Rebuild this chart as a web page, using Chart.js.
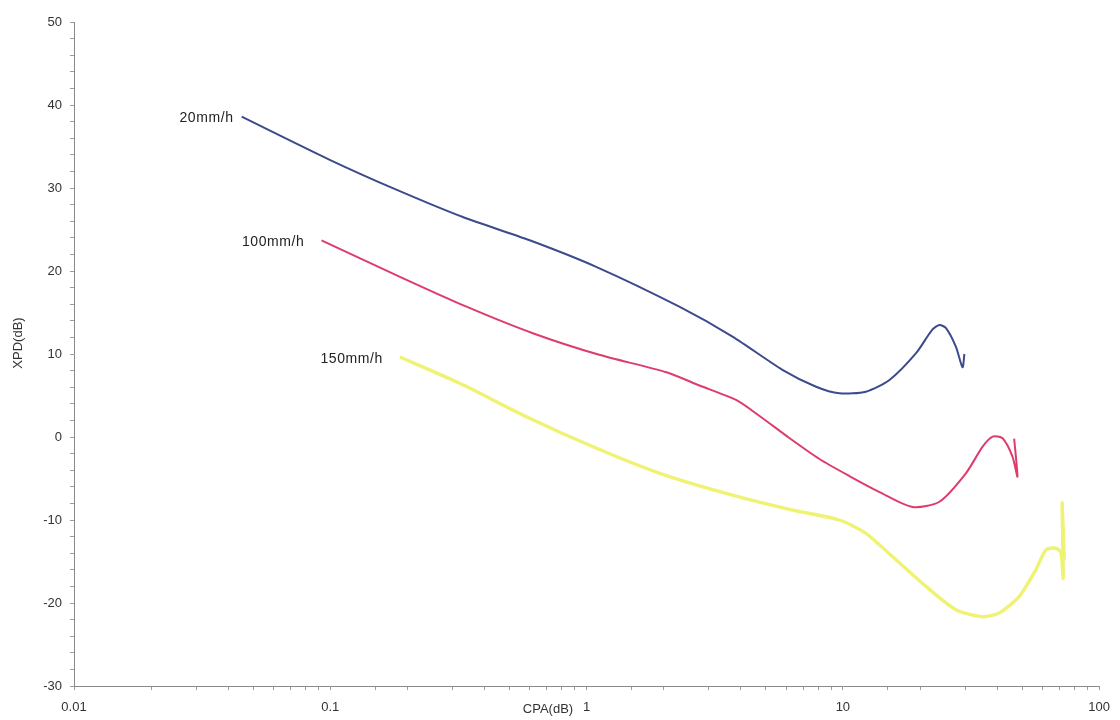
<!DOCTYPE html>
<html>
<head>
<meta charset="utf-8">
<title>XPD vs CPA</title>
<script src="https://cdn.jsdelivr.net/npm/chart.js@4/dist/chart.umd.min.js"></script>
<style>
  html, body { margin: 0; padding: 0; background: #ffffff; }
  #wrap { width: 1120px; height: 720px; }
</style>
</head>
<body>
<div id="wrap"><canvas id="c" width="1120" height="720"></canvas></div>
<script>
// Rain-rate curves: CPA (dB) on a log axis against XPD (dB)
const seriesNames = ['20mm/h', '100mm/h', '150mm/h'];

const cpa20 = [0.0451, 0.0995, 0.181, 0.329, 0.60, 1.09, 2.30, 3.71, 5.81, 7.86, 9.69, 12.3, 15.2, 19.3, 22.3, 23.8, 25.3, 27.6, 29.3, 29.8];
const xpd20 = [38.6, 33.4, 29.8, 26.5, 23.7, 20.5, 15.7, 12.1, 8.1, 6.06, 5.27, 5.46, 6.87, 10.1, 12.9, 13.5, 13.1, 10.9, 8.4, 10.0];

const cpa100 = [0.0924, 0.187, 0.34, 0.617, 1.12, 2.05, 2.76, 3.83, 4.73, 6.18, 8.10, 10.6, 13.9, 18.7, 23.8, 30.2, 35.1, 38.4, 42.0, 45.9, 48.0, 46.6];
const xpd100 = [23.7, 19.3, 15.7, 12.5, 9.9, 7.8, 6.2, 4.46, 2.53, -0.12, -2.65, -4.70, -6.63, -8.43, -7.8, -4.37, -1.17, 0.04, -0.16, -2.37, -4.78, -0.2];

const cpa150 = [0.187, 0.32, 0.582, 1.06, 1.93, 3.5, 6.37, 9.69, 12.3, 15.6, 21.1, 27.6, 35.1, 40.7, 48.8, 56.6, 62.0, 67.8, 70.9, 72.4, 71.7, 73.1];
const xpd150 = [9.64, 6.47, 2.45, -1.17, -4.37, -6.78, -8.8, -10.0, -11.6, -14.4, -18.0, -20.8, -21.65, -21.2, -19.2, -16.0, -13.6, -13.4, -13.9, -17.0, -7.95, -14.8];

const xTickLabels = ['0.01', '0.1', '1', '10', '100'];
const yTickLabels = ['-30', '-20', '-10', '0', '10', '20', '30', '40', '50'];
const xTitle = 'CPA(dB)';
const yTitle = 'XPD(dB)';

const toPoints = (xs, ys) => xs.map((x, i) => ({ x: x, y: ys[i] }));

const lineColors = ['#3d4a8c', '#de3d6c', '#eff272'];
const lineWidths = [2, 2, 3.4];
const labelGaps = [8, 17, 17];
const allX = [cpa20, cpa100, cpa150];
const allY = [xpd20, xpd100, xpd150];

const datasets = seriesNames.map((name, i) => ({
  label: name,
  data: toPoints(allX[i], allY[i]),
  showLine: true,
  borderColor: lineColors[i],
  backgroundColor: lineColors[i],
  borderWidth: lineWidths[i],
  pointRadius: 0,
  tension: 0.25,
  fill: false
}));

const FONT = '"Liberation Sans", Arial, sans-serif';

// Curve names beside the start of each line, plus the axis titles
const annotate = {
  id: 'annotate',
  afterDatasetsDraw(chart) {
    const ctx = chart.ctx;
    const xs = chart.scales.x, ys = chart.scales.y;
    ctx.save();
    ctx.fillStyle = '#222';
    ctx.font = '14px ' + FONT;
    ctx.letterSpacing = '0.6px';
    ctx.textAlign = 'right';
    ctx.textBaseline = 'middle';
    chart.data.datasets.forEach((ds, i) => {
      const p = ds.data[0];
      ctx.fillText(ds.label, xs.getPixelForValue(p.x) - labelGaps[i], ys.getPixelForValue(p.y) + 2);
    });
    ctx.letterSpacing = '0px';
    ctx.fillStyle = '#333';
    ctx.font = '13px ' + FONT;
    ctx.textAlign = 'center';
    ctx.fillText(xTitle, 548, 709);
    ctx.translate(18, 343);
    ctx.rotate(-Math.PI / 2);
    ctx.fillText(yTitle, 0, 0);
    ctx.restore();
  }
};

new Chart(document.getElementById('c'), {
  type: 'scatter',
  data: { datasets: datasets },
  options: {
    responsive: false,
    animation: false,
    layout: { padding: { top: 22, right: 20, left: 0, bottom: 0 } },
    plugins: { legend: { display: false }, tooltip: { enabled: false } },
    scales: {
      x: {
        type: 'logarithmic',
        min: 0.01,
        max: 100,
        border: { display: true, color: '#8a8a8a', width: 1 },
        grid: { drawOnChartArea: false, drawTicks: true, tickLength: 4, tickColor: '#9a9a9a' },
        ticks: {
          autoSkip: false,
          maxRotation: 0,
          color: '#333',
          font: { family: FONT, size: 13 },
          padding: 10,
          callback: (v) => {
            const e = Math.log10(v);
            if (Math.abs(e - Math.round(e)) < 1e-9) {
              return xTickLabels[Math.round(e) + 2];
            }
            return '';
          }
        },
        afterFit: (s) => { s.height = 34; }
      },
      y: {
        type: 'linear',
        min: -30,
        max: 50,
        border: { display: true, color: '#8a8a8a', width: 1 },
        grid: { drawOnChartArea: false, drawTicks: true, tickLength: 4, tickColor: '#9a9a9a' },
        ticks: {
          stepSize: 2,
          autoSkip: false,
          color: '#333',
          font: { family: FONT, size: 13 },
          padding: 8,
          callback: (v) => {
            if (v % 10 === 0) return yTickLabels[(v + 30) / 10];
            return '';
          }
        },
        afterFit: (s) => { s.width = 74; }
      }
    }
  },
  plugins: [annotate]
});
</script>
</body>
</html>
